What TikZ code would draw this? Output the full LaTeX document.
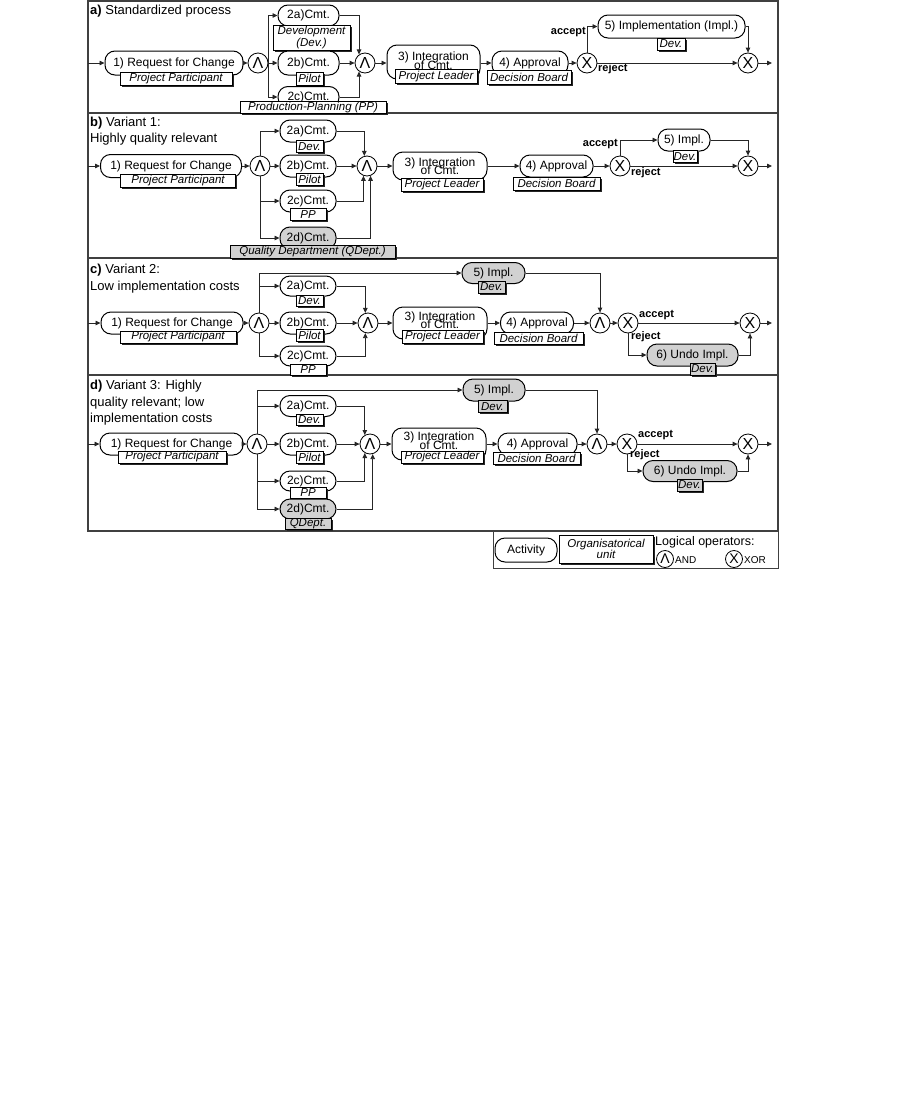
\documentclass[tikz,border=0pt]{standalone}
\usepackage{fontspec}
\setmainfont{Liberation Sans}
\usetikzlibrary{arrows.meta,shadows}
\newcommand\actf{\fontsize{12}{11}\selectfont}
\newcommand\intf{\fontsize{12}{8.5}\selectfont\lineskiplimit=-20pt\lineskip=0pt}
\newcommand\orgf{\fontsize{11.5}{10}\selectfont\itshape}
\newcommand\titf{\fontsize{13}{16.5}\selectfont}
\newcommand\lblf{\fontsize{11}{11}\selectfont\bfseries}
\newcommand\opf{\fontsize{16}{16}\selectfont}
\tikzset{
 wh/.style 2 args={minimum width=#1pt, minimum height=#2pt},
 act/.style={draw=black, line width=1pt, rounded corners=10pt, fill=white, inner sep=0pt, font=\actf, align=center},
 gact/.style={act, fill=black!18},
 itxt/.style={font=\intf, align=center, inner sep=0pt, anchor=north},
 org/.style={draw=black, line width=0.7pt, fill=white, inner sep=0pt, font=\orgf, align=center,
   drop shadow={shadow xshift=1.5pt, shadow yshift=-1.5pt, fill=black!85, opacity=1}},
 gorg/.style={org, fill=black!18},
 op/.style={circle, draw=black, line width=0.8pt, fill=white, minimum size=20pt, inner sep=0pt, font=\opf},
 con/.style={draw=black!85, line width=0.8pt, -{Triangle[length=5pt,width=4.5pt]}},
 lbl/.style={font=\lblf, inner sep=0pt},
 ttl/.style={font=\titf, align=left, anchor=north west, inner sep=0pt},
 frm/.style={draw=black!75, line width=1.3pt},
}
\begin{document}
\begin{tikzpicture}[x=1pt,y=-1pt]
\path[fill=white] (0,0) rectangle (901,1098);
% frame
\draw[frm] (88,1) rectangle (778,531);
\draw[frm] (88,113) -- (778,113);
\draw[frm] (88,258) -- (778,258);
\draw[frm] (88,375) -- (778,375);

% ===== section a =====
\node[ttl] (aT) at (90,5) {\textbf{a)} Standardized process};
\coordinate (aIn) at (88,63);
\node[act, wh={138}{24}] (a1) at (174,63) {1) Request for Change};
\node[org, wh={112}{13}] (aO1) at (176,78.5) {Project Participant};
\node[op] (aA1) at (258,63) {Λ};
\node[act, wh={61}{21}] (a2a) at (308.5,15.5) {2a)Cmt.};
\node[org, wh={77}{25}] (aO2a) at (311.5,37.5) {Development\\(Dev.)};
\node[act, wh={61}{24}] (a2b) at (308.5,63) {2b)Cmt.};
\node[org, wh={27}{13}] (aO2b) at (309.5,78.5) {Pilot};
\node[act, wh={61}{21}] (a2c) at (308.5,97) {2c)Cmt.};
\node[org, wh={146}{12}] (aO2c) at (313,107.5) {Production-Planning (PP)};
\node[op] (aA2) at (365,63) {Λ};
\node[act, wh={93}{34}] (a3) at (433.5,62) {};
\node[org, wh={82}{14}] (aO3) at (436,76.5) {Project Leader};
\node[itxt] (a3t) at (433.5,52) {3) Integration\\of Cmt.};
\node[act, wh={76}{24}] (a4) at (530,63) {4) Approval};
\node[org, wh={84}{14}] (aO4) at (529,77.5) {Decision Board};
\node[op] (aX1) at (587,63) {X};
\node[act, wh={147}{23}] (a5) at (671.5,26.5) {5) Implementation (Impl.)};
\node[org, wh={28}{12}] (aO5) at (671,44) {Dev.};
\node[op] (aX2) at (748,63) {X};
\coordinate (aOut) at (772,63);
\node[lbl, anchor=east] (aAcc) at (586,32.5) {accept};
\node[lbl, anchor=west] (aRej) at (598,69) {reject};
\draw[con] (aIn) -- (a1);
\draw[con] (a1) -- (aA1);
\draw[con] (aA1) -- (a2b);
\draw[con] (aA1.east) |- (a2a);
\draw[con] (aA1.east) |- (a2c);
\draw[con] (a2a) -| (aA2.125);
\draw[con] (a2b) -- (aA2);
\draw[con] (a2c) -| (aA2.235);
\draw[con] (aA2) -- (aA2 -| a3.west);
\draw[con] (a4 -| a3.east) -- (a4);
\draw[con] (a4) -- (aX1);
\draw[con] (aX1) |- (a5);
\draw[con] (a5) -| (aX2);
\draw[con] (aX1) -- (aX2);
\draw[con] (aX2) -- (aOut);

% ===== section b =====
\node[ttl] (bT) at (90,116.5) {\textbf{b)} Variant 1:\\Highly quality relevant};
\coordinate (bIn) at (88,166);
\node[act, wh={141}{23}] (b1) at (171,166) {1) Request for Change};
\node[org, wh={115}{13}] (bO1) at (178,181) {Project Participant};
\node[op] (bA1) at (260,166) {Λ};
\node[act, wh={56}{22}] (b2a) at (308,131) {2a)Cmt.};
\node[org, wh={27}{12}] (bO2a) at (309.5,146.5) {Dev.};
\node[act, wh={56}{22}] (b2b) at (308,166) {2b)Cmt.};
\node[org, wh={27}{12}] (bO2b) at (309.5,179.5) {Pilot};
\node[act, wh={56}{22}] (b2c) at (308,201) {2c)Cmt.};
\node[org, wh={36}{12}] (bO2c) at (308,214.5) {PP};
\node[gact, wh={56}{22}] (b2d) at (308,238) {2d)Cmt.};
\node[gorg, wh={165}{13}] (bO2d) at (312.5,251.5) {Quality Department (QDept.)};
\node[op] (bA2) at (367,166) {Λ};
\node[act, wh={94}{28}] (b3) at (440,166) {};
\node[org, wh={82}{13}] (bO3) at (442,185) {Project Leader};
\node[itxt] (b3t) at (440,157.5) {3) Integration\\of Cmt.};
\node[act, wh={73}{22}] (b4) at (556.5,166) {4) Approval};
\node[org, wh={87}{13}] (bO4) at (556.5,183.5) {Decision Board};
\node[op] (bX1) at (620,166) {X};
\node[act, wh={52}{22}] (b5) at (684,140) {5) Impl.};
\node[org, wh={24}{12}] (bO5) at (685,156.5) {Dev.};
\node[op] (bX2) at (748,166) {X};
\coordinate (bOut) at (772,166);
\node[lbl, anchor=east] (bAcc) at (618,144) {accept};
\node[lbl, anchor=west] (bRej) at (631,173) {reject};
\draw[con] (bIn) -- (b1);
\draw[con] (b1) -- (bA1);
\draw[con] (bA1) -- (b2b);
\draw[con] (bA1) |- (b2a);
\draw[con] (bA1) |- (b2c);
\draw[con] (bA1) |- (b2d);
\draw[con] (b2a) -| (bA2.105);
\draw[con] (b2b) -- (bA2);
\draw[con] (b2c) -| (bA2.250);
\draw[con] (b2d) -| (bA2.290);
\draw[con] (bA2) -- (b3);
\draw[con] (b3) -- (b4);
\draw[con] (b4) -- (bX1);
\draw[con] (bX1) |- (b5);
\draw[con] (b5) -| (bX2);
\draw[con] (bX1) -- (bX2);
\draw[con] (bX2) -- (bOut);

% ===== section c =====
\node[ttl] (cT) at (90,264) {\textbf{c)} Variant 2:\\Low implementation costs};
\coordinate (cIn) at (88,323);
\node[act, wh={142}{22}] (c1) at (172,323) {1) Request for Change};
\node[org, wh={116}{12}] (cO1) at (178,337) {Project Participant};
\node[op] (cA1) at (259,323) {Λ};
\node[gact, wh={63}{21}] (c5) at (493.5,273) {5) Impl.};
\node[gorg, wh={27}{12}] (cO5) at (491.5,287) {Dev.};
\node[act, wh={56}{20}] (c2a) at (308,286) {2a)Cmt.};
\node[org, wh={27}{11}] (cO2a) at (309.5,301) {Dev.};
\node[act, wh={56}{22}] (c2b) at (308,323) {2b)Cmt.};
\node[org, wh={27}{12}] (cO2b) at (309.5,335.5) {Pilot};
\node[act, wh={56}{20}] (c2c) at (308,356) {2c)Cmt.};
\node[org, wh={36}{11}] (cO2c) at (308,369.5) {PP};
\node[op] (cA2) at (368,323) {Λ};
\node[act, wh={94}{32}] (c3) at (440,323) {};
\node[org, wh={81}{13}] (cO3) at (442.5,336.5) {Project Leader};
\node[itxt] (c3t) at (440,311.5) {3) Integration\\of Cmt.};
\node[act, wh={73}{22}] (c4) at (537,323) {4) Approval};
\node[org, wh={89}{12}] (cO4) at (538.5,338) {Decision Board};
\node[op] (cA3) at (600,323) {Λ};
\node[op] (cX1) at (628,323) {X};
\node[gact, wh={91}{22}] (c6) at (692.5,355) {6) Undo Impl.};
\node[gorg, wh={25}{12}] (cO6) at (702.5,369) {Dev.};
\node[op] (cX2) at (750,323) {X};
\coordinate (cOut) at (772,323);
\node[lbl, anchor=west] (cAcc) at (639,315) {accept};
\node[lbl, anchor=west] (cRej) at (631,337) {reject};
\draw[con] (cIn) -- (c1);
\draw[con] (c1) -- (cA1);
\draw[con] (cA1) -- (c2b);
\draw[con] (cA1) |- (c5);
\draw[con] (cA1) |- (c2a);
\draw[con] (cA1) |- (c2c);
\draw[con] (c2a) -| (cA2.105);
\draw[con] (c2b) -- (cA2);
\draw[con] (c2c) -| (cA2.255);
\draw[con] (cA2) -- (c3);
\draw[con] (c3) -- (c4);
\draw[con] (c4) -- (cA3);
\draw[con] (c5) -| (cA3);
\draw[con] (cA3) -- (cX1);
\draw[con] (cX1) -- (cX2);
\draw[con] (cX1) |- (c6);
\draw[con] (c6) -| (cX2);
\draw[con] (cX2) -- (cOut);

% ===== section d =====
\node[ttl] (dT) at (90,380) {\textbf{d)} Variant 3: Highly\\quality relevant; low\\implementation costs};
\coordinate (dIn) at (88,444);
\node[act, wh={143}{22}] (d1) at (171.5,444) {1) Request for Change};
\node[org, wh={108}{12}] (dO1) at (172,457) {Project Participant};
\node[op] (dA1) at (257,444) {Λ};
\node[gact, wh={62}{22}] (d5) at (494,390) {5) Impl.};
\node[gorg, wh={29}{12}] (dO5) at (492.5,406.5) {Dev.};
\node[act, wh={56}{21}] (d2a) at (308,406) {2a)Cmt.};
\node[org, wh={27}{11}] (dO2a) at (309.5,419.5) {Dev.};
\node[act, wh={56}{22}] (d2b) at (308,444) {2b)Cmt.};
\node[org, wh={27}{12}] (dO2b) at (309.5,457) {Pilot};
\node[act, wh={56}{20}] (d2c) at (308,481) {2c)Cmt.};
\node[org, wh={36}{11}] (dO2c) at (308,492.5) {PP};
\node[gact, wh={56}{20}] (d2d) at (308,509) {2d)Cmt.};
\node[gorg, wh={46}{11}] (dO2d) at (308,524) {QDept.};
\node[op] (dA2) at (370,444) {Λ};
\node[act, wh={94}{32}] (d3) at (439,444) {};
\node[org, wh={82}{12}] (dO3) at (442,457) {Project Leader};
\node[itxt] (d3t) at (439,432) {3) Integration\\of Cmt.};
\node[act, wh={79}{22}] (d4) at (537.5,444) {4) Approval};
\node[org, wh={87}{12}] (dO4) at (536.5,458) {Decision Board};
\node[op] (dA3) at (597,444) {Λ};
\node[op] (dX1) at (627,444) {X};
\node[gact, wh={94}{21}] (d6) at (690,471) {6) Undo Impl.};
\node[gorg, wh={25}{12}] (dO6) at (689.5,485) {Dev.};
\node[op] (dX2) at (748,444) {X};
\coordinate (dOut) at (772,444);
\node[lbl, anchor=west] (dAcc) at (638,435) {accept};
\node[lbl, anchor=west] (dRej) at (630,455) {reject};
\draw[con] (dIn) -- (d1);
\draw[con] (d1) -- (dA1);
\draw[con] (dA1) -- (d2b);
\draw[con] (dA1) |- (d5);
\draw[con] (dA1) |- (d2a);
\draw[con] (dA1) |- (d2c);
\draw[con] (dA1) |- (d2d);
\draw[con] (d2a) -| (dA2.120);
\draw[con] (d2b) -- (dA2);
\draw[con] (d2c) -| (dA2.240);
\draw[con] (d2d) -| (dA2.285);
\draw[con] (dA2) -- (d3);
\draw[con] (d3) -- (d4);
\draw[con] (d4) -- (dA3);
\draw[con] (d5) -| (dA3);
\draw[con] (dA3) -- (dX1);
\draw[con] (dX1) -- (dX2);
\draw[con] (dX1) |- (d6);
\draw[con] (d6) -| (dX2);
\draw[con] (dX2) -- (dOut);

% ===== legend =====
\node[draw=black!75, line width=1.1pt, anchor=north west, minimum width=285pt, minimum height=37pt, inner sep=0pt] (leg) at (493,531) {};
\node[act, wh={62}{24}] (lAct) at (526,550) {Activity};
\node[org, wh={94}{28}] (lOrg) at (606,549) {Organisatorical\\unit};
\node[anchor=west, font=\fontsize{12.5}{12}\selectfont, inner sep=0pt] (lLog) at (655,542) {Logical operators:};
\node[op, minimum size=17pt, font=\fontsize{14}{14}\selectfont] (lAnd) at (665,559) {Λ};
\node[anchor=west, font=\fontsize{10}{10}\selectfont, inner sep=0pt] (lAndT) at (675,560) {AND};
\node[op, minimum size=17pt, font=\fontsize{14}{14}\selectfont] (lXor) at (734,559) {X};
\node[anchor=west, font=\fontsize{10}{10}\selectfont, inner sep=0pt] (lXorT) at (744,560) {XOR};
\end{tikzpicture}
\end{document}
